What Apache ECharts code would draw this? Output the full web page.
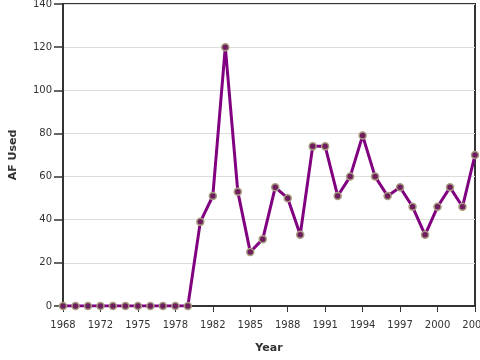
<!DOCTYPE html>
<html>
<head>
<meta charset="utf-8">
<script src="https://cdn.jsdelivr.net/npm/echarts@6/dist/echarts.min.js"></script>
<style>html,body{margin:0;padding:0;background:#fff}#c{width:480px;height:360px}</style>
</head>
<body>
<div id="c"></div>
<script>
// point categories (34 evenly spaced observations)
const categories = ["p1","p2","p3","p4","p5","p6","p7","p8","p9","p10","p11","p12","p13","p14","p15","p16","p17","p18","p19","p20","p21","p22","p23","p24","p25","p26","p27","p28","p29","p30","p31","p32","p33","p34"];
const afUsed = [0,0,0,0,0,0,0,0,0,0,0,39,51,120,53,25,31,55,50,33,74,74,51,60,79,60,51,55,46,33,46,55,46,70];
const xTickLabels = ["1968","1972","1975","1978","1982","1985","1988","1991","1994","1997","2000","2003"];
const yTicks = [0,20,40,60,80,100,120,140];

const chart = echarts.init(document.getElementById('c'), null, {renderer:'canvas'});
const font = 'DejaVu Sans';
chart.setOption({
  animation:false,
  backgroundColor:'#fff',
  grid:{left:63, right:5, top:4, bottom:54, containLabel:false, outerBoundsMode:'none',
        show:true, borderColor:'#333', borderWidth:2, backgroundColor:'transparent'},
  xAxis:{
    type:'category', data:categories, boundaryGap:false,
    name:'Year', nameLocation:'middle', nameGap:37,
    nameTextStyle:{fontFamily:font, fontWeight:'bold', fontSize:11, color:'#333'},
    axisLine:{lineStyle:{color:'#333', width:2}},
    axisTick:{show:true, interval:2, length:6, lineStyle:{color:'#333', width:1}},
    axisLabel:{interval:2, margin:14, fontFamily:font, fontSize:10, color:'#333',
      hideOverlap:false, showMaxLabel:true, showMinLabel:true,
      formatter:(v, i)=> xTickLabels[Math.round(i/3)]},
    splitLine:{show:false}
  },
  yAxis:{
    type:'value', min:yTicks[0], max:yTicks[yTicks.length-1], interval:20,
    name:'AF Used', nameLocation:'middle', nameGap:44, nameRotate:90,
    nameTextStyle:{fontFamily:font, fontWeight:'bold', fontSize:11, color:'#333'},
    axisLine:{show:true, lineStyle:{color:'#333', width:2}},
    axisTick:{show:true, length:9, lineStyle:{color:'#333', width:1.5}},
    axisLabel:{margin:11, fontFamily:font, fontSize:10, color:'#333'},
    splitLine:{show:true, lineStyle:{color:'#dcdcdc', width:1}}
  },
  series:[{
    type:'line', data:afUsed,
    lineStyle:{color:'#800080', width:3},
    symbol:'circle', symbolSize:7, showAllSymbol:true,
    itemStyle:{color:'#6e1e5e', borderColor:'#a89c80', borderWidth:1.5},
    z:5
  }]
});
</script>
</body>
</html>
